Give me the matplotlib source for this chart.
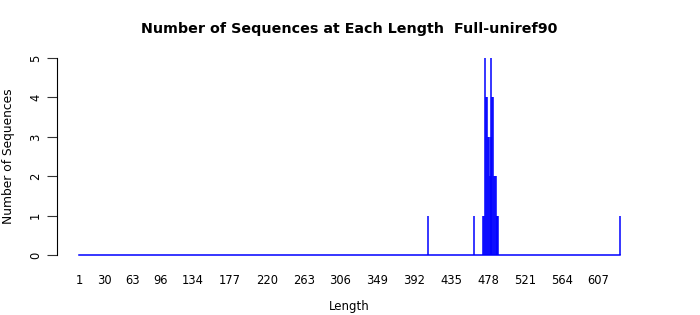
import numpy as np
import matplotlib
matplotlib.use('Agg')
import matplotlib.pyplot as plt

# Comprimentos observados e numero de sequencias em cada um
lengths = [408, 462, 472, 473, 475, 476, 477, 478, 479, 480, 481,
           482, 483, 484, 485, 486, 487, 488, 489, 490, 632]
counts = [1, 1, 1, 1, 5, 4, 4, 3, 3, 2, 3,
          5, 4, 4, 2, 2, 2, 1, 1, 1, 1]

xticks = [1, 30, 63, 96, 134, 177, 220, 263, 306, 349, 392, 435, 478, 521, 564, 607]
yticks = [0, 1, 2, 3, 4, 5]

max_len = max(lengths)
x_all = np.arange(1, max_len + 1)
y_all = np.zeros(max_len)
for l, c in zip(lengths, counts):
    y_all[l - 1] = c

fig = plt.figure(figsize=(7, 3.15), dpi=100)
ax = fig.add_axes([0.082, 0.165, 0.8346, 0.676])

# linhas verticais tipo "h"
ax.vlines(x_all, 0, y_all, colors='#0000ff', lw=1.1)
ax.plot([1, max_len], [0, 0], color='#0000ff', lw=1.1)

pad = 0.04 * (max_len - 1)
ax.set_xlim(1 - pad, max_len + pad)
ax.set_ylim(-0.2, 5.2)

ax.set_xticks(xticks)
ax.set_xticklabels([str(t) for t in xticks], fontsize=8.3)
ax.tick_params(axis='x', length=0, pad=8)
ax.set_yticks(yticks)
ax.set_yticklabels([str(t) for t in yticks], fontsize=8.3, rotation=90, va='center')
ax.tick_params(axis='y', length=7, width=0.8, pad=4, color='#333333')

for s in ['top', 'right', 'bottom']:
    ax.spines[s].set_visible(False)
ax.spines['left'].set_bounds(0, 5)
ax.spines['left'].set_linewidth(0.8)

ax.set_xlabel('Length', fontsize=8.5, labelpad=9.5)
ax.set_ylabel('Number of Sequences', fontsize=8.8, labelpad=10)
ax.set_title('Number of Sequences at Each Length  Full-uniref90',
             fontsize=10.25, fontweight='bold', pad=12)

fig.savefig('out.png', dpi=100)
